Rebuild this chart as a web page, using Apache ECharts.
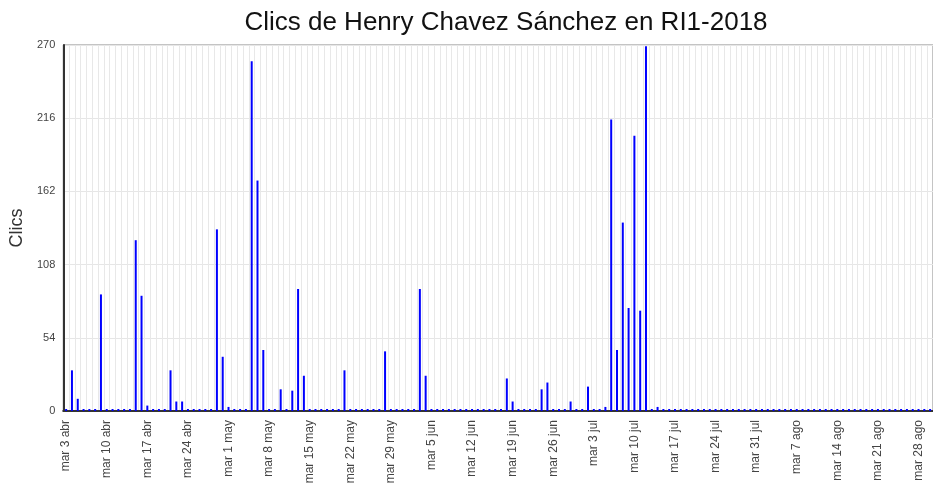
<!DOCTYPE html>
<html>
<head>
<meta charset="utf-8">
<script src="https://cdn.jsdelivr.net/npm/echarts@6/dist/echarts.min.js"></script>
<style>
  html, body { margin: 0; padding: 0; background: #fff; }
  #chart { width: 933px; height: 491px; }
</style>
</head>
<body>
<div id="chart"></div>
<script>
// clics por dia, desde mar 3 abr hasta jue 30 ago (150 dias)
const clics = [
  0, 30, 9, 0, 0, 0, 86, 0, 0, 0, 0, 0, 126, 85, 4, 0, 0, 0, 30, 7,
  7, 0, 0, 0, 0, 0, 134, 40, 3, 0, 0, 0, 258, 170, 45, 0, 0, 16, 0, 15,
  90, 26, 0, 0, 0, 0, 0, 0, 30, 0, 0, 0, 0, 0, 0, 44, 0, 0, 0, 0,
  0, 90, 26, 0, 0, 0, 0, 0, 0, 0, 0, 0, 0, 0, 0, 0, 24, 7, 0, 0,
  0, 0, 16, 21, 0, 0, 0, 7, 0, 0, 18, 0, 0, 3, 215, 45, 139, 76, 203, 74,
  269, 0, 3, 0, 0, 0, 0, 0, 0, 0, 0, 0, 0, 0, 0, 0, 0, 0, 0, 0,
  0, 0, 0, 0, 0, 0, 0, 0, 0, 0, 0, 0, 0, 0, 0, 0, 0, 0, 0, 0,
  0, 0, 0, 0, 0, 0, 0, 0, 0, 0
];
// etiquetas semanales (cada martes)
const weekLabels = [
  'mar 3 abr', 'mar 10 abr', 'mar 17 abr', 'mar 24 abr', 'mar 1 may', 'mar 8 may',
  'mar 15 may', 'mar 22 may', 'mar 29 may', 'mar 5 jun', 'mar 12 jun', 'mar 19 jun',
  'mar 26 jun', 'mar 3 jul', 'mar 10 jul', 'mar 17 jul', 'mar 24 jul', 'mar 31 jul',
  'mar 7 ago', 'mar 14 ago', 'mar 21 ago', 'mar 28 ago'
];
const yTicks = [0, 54, 108, 162, 216, 270];

const days = clics.map((v, i) => (i % 7 === 0 ? weekLabels[i / 7] : 'd' + i));

const chart = echarts.init(document.getElementById('chart'));
chart.setOption({
  animation: false,
  title: {
    text: 'Clics de Henry Chavez Sánchez en RI1-2018',
    left: 501,
    textAlign: 'center',
    top: 5,
    textStyle: { fontFamily: 'Liberation Sans', fontSize: 26, fontWeight: 'normal', color: '#111' }
  },
  grid: {
    left: 63, right: -2, top: 45, bottom: 80,
    show: true, borderColor: '#888', borderWidth: 1
  },
  xAxis: {
    type: 'category',
    data: days,
    boundaryGap: true,
    axisLine: { lineStyle: { color: '#333', width: 2 } },
    axisTick: { show: false },
    splitLine: { show: true, interval: 0, lineStyle: { color: '#e8e8e8', width: 1 } },
    axisLabel: {
      interval: (i) => i % 7 === 0,
      rotate: 90,
      margin: 9,
      fontFamily: 'Liberation Sans',
      fontSize: 12,
      color: '#444'
    }
  },
  yAxis: {
    type: 'value',
    min: yTicks[0],
    max: yTicks[yTicks.length - 1],
    interval: 54,
    name: 'Clics',
    nameLocation: 'middle',
    nameRotate: 90,
    nameGap: 36,
    nameTextStyle: { fontFamily: 'Liberation Sans', fontSize: 18, color: '#333' },
    axisLine: { show: true, lineStyle: { color: '#333', width: 2 } },
    axisTick: { show: false },
    splitLine: { lineStyle: { color: '#e6e6e6', width: 1 } },
    axisLabel: { fontFamily: 'Liberation Sans', fontSize: 11, color: '#444', margin: 8 }
  },
  series: [{
    type: 'bar',
    data: clics,
    barWidth: 2,
    barMinHeight: 2,
    itemStyle: { color: '#0000ff' }
  }]
});
</script>
</body>
</html>
